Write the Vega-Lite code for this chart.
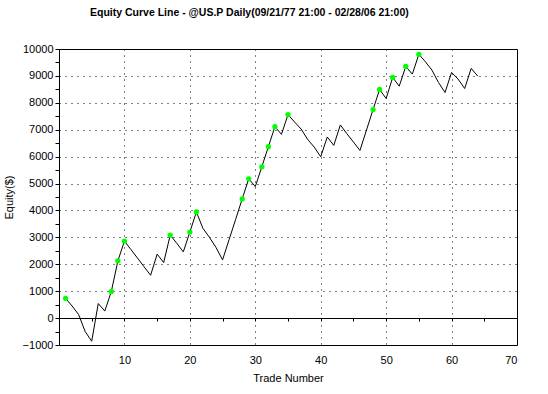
{
  "$schema": "https://vega.github.io/schema/vega-lite/v6.json",
  "autosize": "none",
  "width": 458,
  "height": 296,
  "padding": {"left": 59, "top": 49, "right": 31, "bottom": 49},
  "background": "white",
  "title": {
    "text": "Equity Curve Line - @US.P Daily(09/21/77 21:00 - 02/28/06 21:00)",
    "font": "Liberation Sans",
    "fontSize": 10.5,
    "fontWeight": "bold",
    "color": "black",
    "anchor": "start",
    "frame": "group",
    "dx": 31,
    "baseline": "alphabetic",
    "offset": 17
  },
  "config": {
    "view": {"stroke": "black", "strokeWidth": 1},
    "axis": {
      "labelFont": "Liberation Sans",
      "labelFontSize": 11,
      "labelColor": "black",
      "titleFont": "Liberation Sans",
      "titleFontSize": 11,
      "titleFontWeight": "normal",
      "titleColor": "black",
      "domainColor": "black",
      "tickColor": "black",
      "gridColor": "black",
      "gridDash": [1, 5],
      "gridWidth": 1
    }
  },
  "data": {
    "values": [
      {"trade": 1, "equity": 735, "high": true},
      {"trade": 2, "equity": 450, "high": false},
      {"trade": 3, "equity": 130, "high": false},
      {"trade": 4, "equity": -500, "high": false},
      {"trade": 5, "equity": -860, "high": false},
      {"trade": 6, "equity": 540, "high": false},
      {"trade": 7, "equity": 261, "high": false},
      {"trade": 8, "equity": 990, "high": true},
      {"trade": 9, "equity": 2127, "high": true},
      {"trade": 10, "equity": 2861, "high": true},
      {"trade": 11, "equity": 2545, "high": false},
      {"trade": 12, "equity": 2230, "high": false},
      {"trade": 13, "equity": 1910, "high": false},
      {"trade": 14, "equity": 1592, "high": false},
      {"trade": 15, "equity": 2376, "high": false},
      {"trade": 16, "equity": 2065, "high": false},
      {"trade": 17, "equity": 3085, "high": true},
      {"trade": 18, "equity": 2780, "high": false},
      {"trade": 19, "equity": 2463, "high": false},
      {"trade": 20, "equity": 3197, "high": true},
      {"trade": 21, "equity": 3943, "high": true},
      {"trade": 22, "equity": 3333, "high": false},
      {"trade": 23, "equity": 2998, "high": false},
      {"trade": 24, "equity": 2624, "high": false},
      {"trade": 25, "equity": 2164, "high": false},
      {"trade": 26, "equity": 2920, "high": false},
      {"trade": 27, "equity": 3670, "high": false},
      {"trade": 28, "equity": 4428, "high": true},
      {"trade": 29, "equity": 5174, "high": true},
      {"trade": 30, "equity": 4888, "high": false},
      {"trade": 31, "equity": 5622, "high": true},
      {"trade": 32, "equity": 6368, "high": true},
      {"trade": 33, "equity": 7114, "high": true},
      {"trade": 34, "equity": 6828, "high": false},
      {"trade": 35, "equity": 7562, "high": true},
      {"trade": 36, "equity": 7288, "high": false},
      {"trade": 37, "equity": 7027, "high": false},
      {"trade": 38, "equity": 6642, "high": false},
      {"trade": 39, "equity": 6356, "high": false},
      {"trade": 40, "equity": 5995, "high": false},
      {"trade": 41, "equity": 6729, "high": false},
      {"trade": 42, "equity": 6418, "high": false},
      {"trade": 43, "equity": 7177, "high": false},
      {"trade": 44, "equity": 6853, "high": false},
      {"trade": 45, "equity": 6542, "high": false},
      {"trade": 46, "equity": 6231, "high": false},
      {"trade": 47, "equity": 6990, "high": false},
      {"trade": 48, "equity": 7749, "high": true},
      {"trade": 49, "equity": 8495, "high": true},
      {"trade": 50, "equity": 8159, "high": false},
      {"trade": 51, "equity": 8943, "high": true},
      {"trade": 52, "equity": 8619, "high": false},
      {"trade": 53, "equity": 9353, "high": true},
      {"trade": 54, "equity": 9067, "high": false},
      {"trade": 55, "equity": 9801, "high": true},
      {"trade": 56, "equity": 9527, "high": false},
      {"trade": 57, "equity": 9216, "high": false},
      {"trade": 58, "equity": 8756, "high": false},
      {"trade": 59, "equity": 8383, "high": false},
      {"trade": 60, "equity": 9129, "high": false},
      {"trade": 61, "equity": 8881, "high": false},
      {"trade": 62, "equity": 8532, "high": false},
      {"trade": 63, "equity": 9279, "high": false},
      {"trade": 64, "equity": 8993, "high": false}
    ]
  },
  "encoding": {
    "x": {
      "field": "trade",
      "type": "quantitative",
      "scale": {"domain": [0, 70], "nice": false, "zero": false},
      "axis": {
        "title": "Trade Number",
        "values": [5, 10, 15, 20, 25, 30, 35, 40, 45, 50, 55, 60, 65, 70],
        "labelExpr": "datum.value % 10 === 0 ? datum.label : ''",
        "offset": -27,
        "tickSize": 3,
        "labelPadding": 33,
        "titleY": 63,
        "titleBaseline": "alphabetic",
        "grid": true,
        "gridOpacity": {"condition": {"test": "datum.value % 10 === 0 && datum.value < 70", "value": 1}, "value": 0}
      }
    },
    "y": {
      "field": "equity",
      "type": "quantitative",
      "scale": {"domain": [-1000, 10000], "nice": false, "zero": false},
      "axis": {
        "title": "Equity($)",
        "values": [-1000, -500, 0, 500, 1000, 1500, 2000, 2500, 3000, 3500, 4000, 4500, 5000, 5500, 6000, 6500, 7000, 7500, 8000, 8500, 9000, 9500, 10000],
        "format": "d",
        "labelExpr": "datum.value % 1000 === 0 ? datum.label : ''",
        "tickSize": 4,
        "labelPadding": 2,
        "titlePadding": 8,
        "grid": true,
        "gridOpacity": {"condition": {"test": "datum.value % 1000 === 0 && datum.value > -1000 && datum.value < 10000", "value": 1}, "value": 0}
      }
    }
  },
  "layer": [
    {
      "mark": {"type": "line", "color": "black", "strokeWidth": 1}
    },
    {
      "transform": [{"filter": "datum.high"}],
      "mark": {"type": "circle", "color": "#00ff00", "opacity": 1, "size": 28}
    }
  ]
}
